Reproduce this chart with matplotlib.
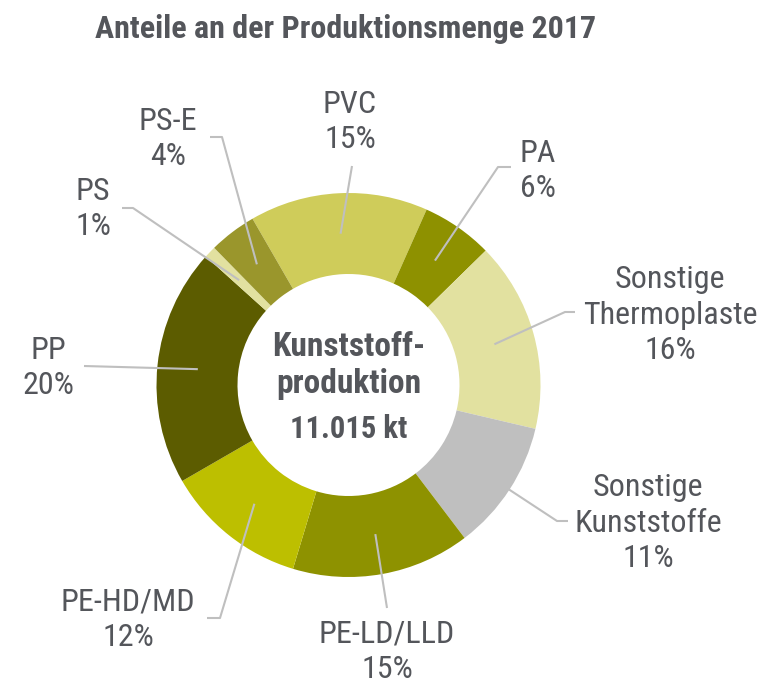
import numpy as np
import matplotlib
matplotlib.use('Agg')
import matplotlib.pyplot as plt

plt.rcParams['font.family'] = ['Roboto Condensed', 'Liberation Sans', 'DejaVu Sans']

# data (clockwise from PVC)
names = ['PVC', 'PA', 'Sonstige\nThermoplaste', 'Sonstige\nKunststoffe', 'PE-LD/LLD',
         'PE-HD/MD', 'PP', 'PS', 'PS-E']
shares = [15, 6, 16, 11, 15, 12, 20, 1, 4]
colors = ['#CFCC5A', '#8E9100', '#E2E1A0', '#BFBFBF', '#8E9200',
          '#BDBF00', '#5C5C00', '#E2E1A0', '#9A962C']

# layout in pixels (y from top)
W, H = 760, 685
cx, cy = 348.5, 385
r_out, r_in = 192, 111
text_pos = [(350, 122), (538, 171), (670, 315), (648, 523), (387, 652),
            (128, 620), (48, 368), (93, 209), (168, 139)]
# leader elbow / end points
leader_pts = [[(352, 166)], [(498, 167), (511, 167)], [(565, 312), (575, 312)],
              [(557, 521), (568, 521)], [(387, 608)], [(220, 618), (207, 618)],
              [(84, 366)], [(133, 208), (122, 208)], [(222, 137), (210, 137)]]

txt_col = '#54565B'
line_col = '#BFBFBF'

fig = plt.figure(figsize=(7.6, 6.85), dpi=100)
ax = fig.add_axes([0, 0, 1, 1])

wedges, _ = ax.pie(shares, colors=colors, startangle=120, counterclock=False,
                   radius=r_out, center=(cx, H - cy),
                   wedgeprops=dict(width=r_out - r_in, linewidth=0))

ax.set_xlim(0, W)
ax.set_ylim(0, H)
ax.set_aspect('equal')
ax.axis('off')

r_mid = (r_out + r_in) / 2
for w, name, s, (tx, ty), pts in zip(wedges, names, shares, text_pos, leader_pts):
    ang = np.deg2rad((w.theta1 + w.theta2) / 2)
    ax0 = cx + r_mid * np.cos(ang)
    ay0 = (H - cy) + r_mid * np.sin(ang)
    xs = [ax0] + [p[0] for p in pts]
    ys = [ay0] + [H - p[1] for p in pts]
    ax.plot(xs, ys, color=line_col, lw=1.5, solid_capstyle='butt')
    ax.text(tx, H - ty, f'{name}\n{s}%', ha='center', va='center',
            fontsize=23, color=txt_col, linespacing=1.3)

ax.text(346, H - 29, 'Anteile an der Produktionsmenge 2017', ha='center', va='center',
        fontsize=23, fontweight='bold', color=txt_col)

ax.text(cx, H - 356, 'Kunststoff-', ha='center', va='baseline',
        fontsize=24, fontweight='bold', color=txt_col)
ax.text(cx, H - 393, 'produktion', ha='center', va='baseline',
        fontsize=24, fontweight='bold', color=txt_col)
ax.text(cx, H - 438, '11.015 kt', ha='center', va='baseline',
        fontsize=22, fontweight='bold', color=txt_col)

fig.savefig('out.png', dpi=100)
